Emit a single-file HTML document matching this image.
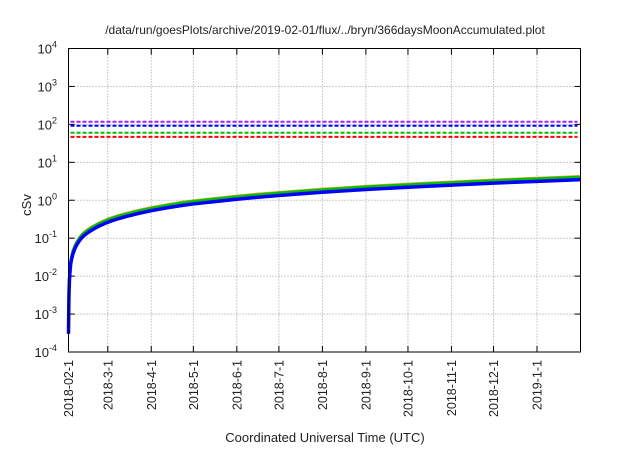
<!DOCTYPE html>
<html><head><meta charset="utf-8"><style>
body{margin:0;background:#fff}
svg text{font-family:"Liberation Sans",sans-serif;fill:#222}
</style></head><body>
<svg id="c" width="640" height="448" xmlns="http://www.w3.org/2000/svg"></svg>
<script>
const xTickLabels=["2018-02-1","2018-3-1","2018-4-1","2018-5-1","2018-6-1","2018-7-1","2018-8-1","2018-9-1","2018-10-1","2018-11-1","2018-12-1","2019-1-1"];
const xTickDays=[0,28,59,89,120,150,181,212,242,273,303,334];
const yTickExps=[-4,-3,-2,-1,0,1,2,3,4];
const days=[0,0.2,0.4,0.7,1,1.5,2,3,4,5,6,8,10,12,15,18,22,26,30,36,42,50,59,70,80,89,105,120,135,150,165,181,196,212,227,242,258,273,288,303,318,334,350,365];
const blueVals=[0.0003,0.0015,0.004,0.008,0.012,0.02,0.026,0.037,0.047,0.058,0.068,0.088,0.108,0.125,0.15,0.175,0.21,0.245,0.28,0.33,0.38,0.45,0.53,0.63,0.72,0.8,0.93,1.06,1.2,1.33,1.47,1.62,1.76,1.92,2.06,2.2,2.36,2.5,2.66,2.82,2.98,3.15,3.32,3.5];
const greenVals=[0.00035,0.0018,0.0047,0.0093,0.014,0.023,0.03,0.043,0.055,0.067,0.079,0.102,0.125,0.145,0.174,0.203,0.244,0.284,0.325,0.383,0.44,0.52,0.61,0.73,0.84,0.93,1.08,1.23,1.39,1.54,1.7,1.88,2.04,2.23,2.39,2.55,2.74,2.9,3.09,3.27,3.46,3.65,3.85,4.06];
const redVals=[0.00037,0.0019,0.005,0.0099,0.015,0.025,0.032,0.046,0.058,0.071,0.084,0.108,0.133,0.154,0.185,0.215,0.258,0.3,0.344,0.406,0.467,0.55,0.65,0.77,0.89,0.98,1.14,1.3,1.47,1.63,1.8,1.99,2.16,2.36,2.53,2.7,2.9,3.07,3.27,3.46,3.66,3.87,4.08,4.3];
const limitNames=["purple-limit","blue-limit","green-limit","red-limit"];
const limitVals=[117,92,60,47];
const limitColors=["#a020f0","#0000ff","#00c000","#ff0000"];

const NS="http://www.w3.org/2000/svg";
const svg=document.getElementById('c');
const L=68.5,R=580.5,T=48.5,B=352,DMAX=365;
const xs=d=>L+(R-L)*d/DMAX;
const ys=v=>T+(4-Math.log10(v))*(B-T)/8;
function mk(t,a,p){const e=document.createElementNS(NS,t);for(const k in a)e.setAttribute(k,a[k]);(p||svg).appendChild(e);return e;}

yTickExps.forEach(e=>{const y=T+(4-e)*(B-T)/8;
 if(e>-4&&e<4){const g=mk('line',{x1:L,x2:R,y1:y,y2:y,stroke:'#999','stroke-dasharray':'1,2','stroke-width':1});
 }
 const t1=mk('line',{x1:L,x2:L+6,y1:y,y2:y,stroke:'#000'});
 const t2=mk('line',{x1:R-6,x2:R,y1:y,y2:y,stroke:'#000'});
 const tx=mk('text',{x:57,y:y+5,'text-anchor':'end','font-size':13});
 
 tx.innerHTML='10<tspan dy="-6" font-size="9">'+e+'</tspan>';
});
xTickDays.forEach((d,i)=>{const x=xs(d);
 if(i>0){const g=mk('line',{x1:x,x2:x,y1:T,y2:B,stroke:'#999','stroke-dasharray':'1,2'});
 }
 const t1=mk('line',{x1:x,x2:x,y1:B-6,y2:B,stroke:'#000'});
 const t2=mk('line',{x1:x,x2:x,y1:T,y2:T+6,stroke:'#000'});
 const tx=mk('text',{x:0,y:0,'text-anchor':'end','font-size':12.5,transform:`translate(${x+4.5},${B+8}) rotate(-90)`});
 
 tx.textContent=xTickLabels[i];
});
limitVals.forEach((v,i)=>{const y=ys(v);
 const l=mk('line',{x1:L+2,x2:R-3,y1:y,y2:y,stroke:limitColors[i],'stroke-width':2,'stroke-dasharray':'4,2'});
 });
function curve(vals,color,w,name){const d=vals.map((v,i)=>(i?'L':'M')+xs(days[i]).toFixed(2)+','+ys(v).toFixed(2)).join('');
 const p=mk('path',{d:d,fill:'none',stroke:color,'stroke-width':w,'stroke-linejoin':'round'});
 }
curve(redVals,'#e0a040',2.5,'orange-dose-series');
curve(greenVals,'#00c000',3,'green-dose-series');
curve(blueVals,'#0000ff',3.5,'blue-dose-series');
const f=mk('rect',{x:L,y:T,width:R-L,height:B-T,fill:'none',stroke:'#000','stroke-width':1});

const ti=mk('text',{x:325,y:34,'text-anchor':'middle','font-size':12});

ti.textContent='/data/run/goesPlots/archive/2019-02-01/flux/../bryn/366daysMoonAccumulated.plot';
const xt=mk('text',{x:325,y:442,'text-anchor':'middle','font-size':13});

xt.textContent='Coordinated Universal Time (UTC)';
const yt=mk('text',{x:0,y:0,'text-anchor':'middle','font-size':13,transform:'translate(31,205) rotate(-90)'});

yt.textContent='cSv';
</script>
</body></html>
